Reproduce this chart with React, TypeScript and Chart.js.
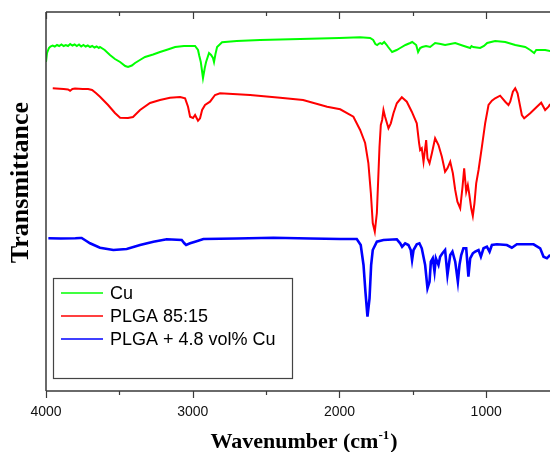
import React, { useEffect, useRef } from "react";
import { Chart, registerables } from "chart.js";

Chart.register(...registerables);

// ---- Data (wavenumber in cm-1, transmittance in arbitrary units) ----
const cuWavenumber = [4000, 3993, 3980, 3970, 3955, 3940, 3925, 3910, 3895, 3880, 3865, 3850, 3835, 3820, 3805, 3790, 3775, 3760, 3745, 3730, 3715, 3700, 3685, 3670, 3655, 3640, 3632, 3600, 3564, 3530, 3495, 3460, 3441, 3415, 3393, 3360, 3325, 3270, 3223, 3170, 3120, 3060, 3018, 2984, 2964, 2955, 2945, 2930, 2918, 2909, 2889, 2875, 2862, 2855, 2845, 2834, 2800, 2700, 2541, 2268, 2000, 1859, 1791, 1770, 1755, 1743, 1730, 1722, 1710, 1695, 1680, 1668, 1641, 1610, 1586, 1550, 1518, 1504, 1477, 1464, 1450, 1436, 1410, 1382, 1348, 1310, 1280, 1245, 1211, 1157, 1109, 1100, 1089, 1041, 1015, 993, 939, 870, 802, 734, 700, 673, 659, 598, 564];
const cuTransmittance = [329, 338, 343, 344.5, 345.5, 344.5, 346, 345, 346.5, 345, 346, 345, 347, 345.5, 346.5, 345, 346.5, 344.5, 346, 344.5, 345.5, 344, 345, 343.5, 344.5, 343, 344, 341, 336, 332, 329, 325, 324, 325.5, 328, 331, 334, 336.5, 339, 341.5, 344, 345, 345, 345, 341, 335, 329, 313, 323, 329, 338, 336, 333, 329, 337, 344, 348.7, 350, 351, 352, 353, 353.7, 353, 351, 347, 346, 347.5, 348, 347, 349, 346.5, 344, 339, 341, 343, 346, 348, 349, 346, 339, 343, 344, 345, 344, 348, 347, 346, 347, 348, 345.3, 343, 345, 344, 343, 345, 348, 350, 349, 346, 344, 341, 338, 341, 341, 340];

const plgaWavenumber = [3954, 3932, 3880, 3850, 3836, 3820, 3802, 3750, 3713, 3686, 3660, 3632, 3577, 3530, 3495, 3441, 3407, 3359, 3291, 3223, 3155, 3086, 3052, 3032, 3018, 2998, 2984, 2964, 2950, 2936, 2916, 2882, 2848, 2814, 2609, 2404, 2248, 2084, 1995, 1905, 1859, 1825, 1803, 1786, 1773, 1759, 1745, 1736, 1727, 1718, 1709, 1700, 1689, 1666, 1650, 1632, 1609, 1575, 1541, 1507, 1473, 1457, 1450, 1439, 1427, 1409, 1400, 1386, 1370, 1348, 1325, 1302, 1280, 1264, 1245, 1227, 1211, 1196, 1177, 1161, 1150, 1136, 1125, 1116, 1102, 1091, 1080, 1068, 1052, 1029, 1007, 984, 961, 939, 905, 870, 848, 836, 818, 802, 786, 768, 757, 741, 700, 654, 625, 598, 575, 564];
const plgaTransmittance = [302.7, 302.5, 302, 301.5, 300.3, 302, 302.5, 302, 302, 301, 298, 294.3, 286, 278, 273.3, 273, 274, 281, 288, 291, 293.3, 294, 292.7, 284.3, 274.3, 273, 276, 270.3, 272.7, 281, 286, 289.3, 296, 297.7, 296, 293.3, 291, 284.3, 281.7, 274.3, 261, 248, 228, 198, 168, 159.3, 178, 211, 244.3, 266, 271, 281, 274.3, 262.7, 267.7, 277.7, 287.7, 293.7, 289.3, 279.3, 267.7, 247.7, 241, 242.7, 229.3, 251, 232.7, 227.7, 237.7, 252.7, 246, 234.3, 219.3, 222.7, 229.3, 217.7, 201, 189.3, 182.7, 204.3, 222.7, 199.3, 206, 197.7, 182.7, 175, 187.7, 207.7, 221, 244.3, 267.7, 286, 290.3, 292.7, 295.3, 289.3, 286, 289.3, 299.3, 302.7, 297.7, 284.3, 276, 272.7, 277.7, 284.3, 288.3, 281, 284.3, 287];

const compWavenumber = [3984, 3900, 3800, 3768, 3757, 3730, 3700, 3632, 3541, 3450, 3359, 3268, 3177, 3075, 3057, 3045, 3018, 2984, 2927, 2700, 2450, 2200, 1995, 1882, 1855, 1836, 1823, 1809, 1795, 1784, 1773, 1745, 1700, 1609, 1586, 1573, 1552, 1530, 1514, 1505, 1495, 1473, 1455, 1439, 1416, 1400, 1386, 1377, 1364, 1352, 1343, 1325, 1314, 1298, 1280, 1264, 1245, 1230, 1211, 1193, 1182, 1170, 1155, 1136, 1121, 1109, 1091, 1075, 1052, 1036, 1018, 995, 977, 961, 927, 859, 825, 791, 677, 632, 609, 586, 564];
const compTransmittance = [152.7, 152.5, 152.7, 153, 153, 150.5, 147.7, 143.3, 141, 142, 146, 149.3, 151.7, 151, 147.7, 146, 147.7, 149.3, 152, 152.5, 153.3, 152.5, 152, 152, 146, 126, 99.3, 74.3, 92.7, 126, 141, 149.3, 151, 151.7, 147.7, 144.3, 147.7, 146, 141, 131, 141, 146.7, 147.7, 142.7, 126, 102.7, 109.3, 129.3, 132.7, 119.3, 132.7, 126, 134.3, 137.7, 141, 116, 136, 139.3, 129.3, 109.3, 126, 136, 142.7, 142.7, 114.3, 132.7, 137.7, 139.3, 141, 134.3, 142.7, 144.3, 139.3, 146, 146.7, 146, 143.3, 146.7, 146.7, 142.7, 134.3, 132.7, 136];

const seriesLabels = ["Cu", "PLGA 85:15", "PLGA + 4.8 vol% Cu"];
const seriesColors = ["#00ff00", "#ff0000", "#0000ff"];
const xTickValues = [4000, 3500, 3000, 2500, 2000, 1500, 1000];
const xTickLabels = ["4000", "", "3000", "", "2000", "", "1000"];
const xTitle = "Wavenumber (cm";
const xTitleSup = "-1";
const yTitle = "Transmittance";

const toPoints = (xs: number[], ys: number[]) => xs.map((x, i) => ({ x, y: ys[i] }));

const SERIF = "'Liberation Serif', 'Times New Roman', serif";

const framePlugin = {
  id: "frame",
  afterDatasetsDraw(chart: any) {
    const { ctx, chartArea: ca } = chart;
    const xs = chart.scales.x;
    ctx.save();
    ctx.strokeStyle = "#3a3a3a";
    ctx.lineWidth = 1.5;
    ctx.beginPath();
    ctx.moveTo(ca.left, ca.top);
    ctx.lineTo(ca.right, ca.top);
    ctx.moveTo(ca.left, ca.top);
    ctx.lineTo(ca.left, ca.bottom);
    ctx.moveTo(ca.left, ca.bottom);
    ctx.lineTo(ca.right, ca.bottom);
    ctx.stroke();
    ctx.lineWidth = 1.2;
    ctx.beginPath();
    xTickValues.forEach((v, i) => {
      const px = Math.round(xs.getPixelForValue(v)) + 0.5;
      const len = xTickLabels[i] ? 7 : 4;
      ctx.moveTo(px, ca.bottom);
      ctx.lineTo(px, ca.bottom + len);
      ctx.moveTo(px, ca.top);
      ctx.lineTo(px, ca.top + len);
    });
    ctx.stroke();

    // legend box
    const bx = ca.left + 7;
    const by = ca.bottom - 113;
    ctx.lineWidth = 1.2;
    ctx.strokeStyle = "#444";
    ctx.strokeRect(bx + 0.5, by + 0.5, 239, 100);
    chart.data.datasets.forEach((ds: any, i: number) => {
      const y = by + 15 + i * 23;
      ctx.strokeStyle = ds.borderColor;
      ctx.lineWidth = 1.6;
      ctx.beginPath();
      ctx.moveTo(bx + 8, y);
      ctx.lineTo(bx + 50, y);
      ctx.stroke();
      ctx.fillStyle = "#000";
      ctx.font = "18px 'Liberation Sans', Arial, sans-serif";
      ctx.textBaseline = "middle";
      ctx.textAlign = "left";
      ctx.fillText(ds.label, bx + 57, y + 1);
    });

    // axis titles
    ctx.fillStyle = "#000";
    ctx.textBaseline = "alphabetic";
    const big = "bold 22px " + SERIF;
    const small = "bold 13px " + SERIF;
    ctx.font = big;
    const mainW = ctx.measureText(xTitle).width;
    const closeW = ctx.measureText(")").width;
    ctx.font = small;
    const supW = ctx.measureText(xTitleSup).width;
    const total = mainW + supW + closeW + 1;
    const cx = (ca.left + ca.right) / 2 + 6;
    let tx = cx - total / 2;
    const ty = ca.bottom + 57;
    ctx.textAlign = "left";
    ctx.font = big;
    ctx.fillText(xTitle, tx, ty);
    tx += mainW;
    ctx.font = small;
    ctx.fillText(xTitleSup, tx, ty - 9);
    tx += supW + 1;
    ctx.font = big;
    ctx.fillText(")", tx, ty);

    ctx.font = "bold 26px " + SERIF;
    ctx.translate(ca.left - 18, (ca.top + ca.bottom) / 2 - 19);
    ctx.rotate(-Math.PI / 2);
    ctx.textAlign = "center";
    ctx.fillText(yTitle, 0, 0);
    ctx.restore();
  },
};

export default function App() {
  const ref = useRef<HTMLCanvasElement | null>(null);
  useEffect(() => {
    if (!ref.current) return;
    const chart = new Chart(ref.current, {
      type: "line",
      data: {
        datasets: [
          { label: seriesLabels[0], data: toPoints(cuWavenumber, cuTransmittance), borderColor: seriesColors[0], borderWidth: 2, pointRadius: 0, tension: 0 },
          { label: seriesLabels[1], data: toPoints(plgaWavenumber, plgaTransmittance), borderColor: seriesColors[1], borderWidth: 2, pointRadius: 0, tension: 0 },
          { label: seriesLabels[2], data: toPoints(compWavenumber, compTransmittance), borderColor: seriesColors[2], borderWidth: 2.6, pointRadius: 0, tension: 0 },
        ],
      },
      options: {
        responsive: false,
        animation: false,
        devicePixelRatio: 1,
        layout: { padding: { top: 12, left: 46, right: 0, bottom: 0 } },
        plugins: { legend: { display: false }, tooltip: { enabled: false }, title: { display: false } },
        scales: {
          x: {
            type: "linear",
            reverse: true,
            min: 565,
            max: 4000,
            grid: { display: false, drawTicks: false },
            border: { display: false },
            afterBuildTicks: (scale: any) => {
              scale.ticks = xTickValues.map((v) => ({ value: v }));
            },
            afterFit: (scale: any) => {
              scale.height = 61;
            },
            ticks: {
              autoSkip: false,
              maxRotation: 0,
              padding: 13,
              color: "#111",
              font: { family: "'Liberation Sans', Arial, sans-serif", size: 14 },
              callback: (v: any) => {
                const i = xTickValues.indexOf(Number(v));
                return i >= 0 ? xTickLabels[i] : "";
              },
            },
          },
          y: {
            display: false,
            min: 0,
            max: 379,
          },
        },
      },
      plugins: [framePlugin],
    });
    return () => chart.destroy();
  }, []);
  return (
    <div style={{ position: "absolute", left: 0, top: 0, width: 550, height: 452, background: "#fff" }}>
      <canvas ref={ref} width={550} height={452} style={{ width: 550, height: 452, display: "block" }} />
    </div>
  );
}
